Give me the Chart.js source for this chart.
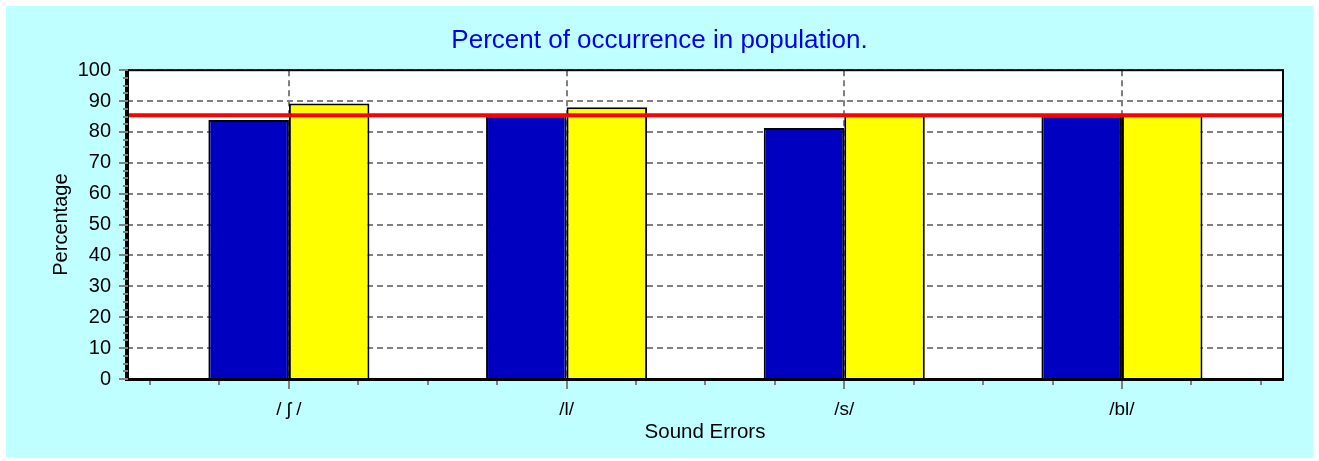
<!DOCTYPE html>
<html>
<head>
<meta charset="utf-8">
<script src="https://cdn.jsdelivr.net/npm/chart.js@4"></script>
<style>
html, body { margin: 0; padding: 0; background: #ffffff; }
#c { display: block; }
</style>
</head>
<body>
<canvas id="c" width="1319" height="461"></canvas>
<script>
// ---- data ----
const categories = ['/ \u0283 /', '/l/', '/s/', '/bl/'];
const seriesBlue = [83.9, 85.4, 81.3, 85.4];
const seriesYellow = [89.2, 88, 85.4, 85.4];
const referenceLevel = 85.4;
const yTickValues = [0, 10, 20, 30, 40, 50, 60, 70, 80, 90, 100];
const xMinorStep = 0.25;

const FONT = '"Liberation Sans", Arial, sans-serif';
const X_MIN = 0.417, X_MAX = 4.58;

const panelPlugin = {
  id: 'panel',
  beforeDraw(chart) {
    const { ctx, chartArea: a } = chart;
    ctx.save();
    ctx.fillStyle = '#C0FFFF';
    ctx.fillRect(6, 6, 1307, 451);
    ctx.fillStyle = '#FFFFFF';
    ctx.fillRect(a.left, a.top, a.right - a.left, a.bottom - a.top);
    ctx.restore();
  },
  afterDraw(chart) {
    const { ctx, chartArea: a, scales: { x, y } } = chart;
    ctx.save();
    // frame
    ctx.fillStyle = '#000000';
    ctx.fillRect(a.left, a.top - 1, a.right - a.left, 2);
    ctx.fillRect(a.right - 1, a.top - 1, 2, a.bottom - a.top + 1);
    ctx.fillRect(a.left - 2, a.top - 1, 4, a.bottom - a.top + 3);
    ctx.fillRect(a.left - 2, a.bottom - 1, a.right - a.left + 3, 3);
    // tick marks
    ctx.fillStyle = '#808080';
    for (let v = 0; v <= 100.001; v += 2.5) {
      const py = Math.round(y.getPixelForValue(v));
      const major = Math.abs(v % 10) < 1e-6;
      if (major) ctx.fillRect(a.left - 8, py - 1, 9, 2);
      else ctx.fillRect(a.left - 4, py - 1, 5, 2);
    }
    for (let v = 0.5; v <= 4.5001; v += xMinorStep) {
      const px = Math.round(x.getPixelForValue(v));
      const major = Math.abs(v - Math.round(v)) < 1e-6;
      ctx.fillRect(px - 1, a.bottom + 2, 2, major ? 8 : 4);
    }
    ctx.restore();
  }
};

new Chart(document.getElementById('c'), {
  data: {
    datasets: [
      {
        type: 'line',
        order: 0,
        data: [{ x: X_MIN, y: referenceLevel }, { x: X_MAX, y: referenceLevel }],
        borderColor: '#FF0000',
        borderWidth: 4,
        pointRadius: 0,
        fill: false
      },
      {
        type: 'bar',
        order: 1,
        data: seriesBlue.map((v, i) => ({ x: i + 1, y: v })),
        backgroundColor: '#0000C0',
        borderColor: '#000000',
        borderWidth: 2,
        categoryPercentage: 0.58,
        barPercentage: 1.0
      },
      {
        type: 'bar',
        order: 1,
        data: seriesYellow.map((v, i) => ({ x: i + 1, y: v })),
        backgroundColor: '#FFFF00',
        borderColor: '#000000',
        borderWidth: 2,
        categoryPercentage: 0.58,
        barPercentage: 1.0
      }
    ]
  },
  options: {
    responsive: false,
    animation: false,
    devicePixelRatio: 1,
    layout: { padding: 0 },
    plugins: {
      legend: { display: false },
      tooltip: { enabled: false },
      title: {
        display: true,
        text: 'Percent of occurrence in population.',
        color: '#0000EE',
        font: { family: FONT, size: 26, weight: 'normal' },
        padding: { top: 25, bottom: 14 }
      }
    },
    scales: {
      x: {
        type: 'linear',
        min: X_MIN,
        max: X_MAX,
        offset: false,
        afterBuildTicks: (axis) => { axis.ticks = categories.map((_, i) => ({ value: i + 1 })); },
        afterFit: (s) => { s.height = 82; },
        ticks: {
          autoSkip: false,
          maxRotation: 0,
          padding: 19,
          color: '#000000',
          font: { family: FONT, size: 19 },
          callback: (v) => categories[Math.round(v) - 1] || ''
        },
        grid: { color: '#808080', lineWidth: 2, drawTicks: false, offset: false },
        border: { display: false, dash: [6, 4] },
        title: {
          display: true,
          text: 'Sound Errors',
          color: '#000000',
          font: { family: FONT, size: 20.5 },
          padding: { top: 16, bottom: 16 }
        }
      },
      y: {
        min: 0,
        max: 100,
        afterBuildTicks: (axis) => { axis.ticks = yTickValues.map(v => ({ value: v })); },
        afterFit: (s) => { s.width = 127; },
        ticks: {
          autoSkip: false,
          padding: 16,
          color: '#000000',
          font: { family: FONT, size: 20 }
        },
        grid: { color: '#808080', lineWidth: 2, drawTicks: false },
        border: { display: false, dash: [6, 4] },
        title: {
          display: true,
          text: 'Percentage',
          color: '#000000',
          font: { family: FONT, size: 20 },
          padding: { top: 49, bottom: 49 }
        }
      },
      yRight: {
        position: 'right',
        min: 0,
        max: 100,
        afterFit: (s) => { s.width = 36; },
        ticks: { display: false },
        grid: { display: false, drawTicks: false },
        border: { display: false }
      }
    }
  },
  plugins: [panelPlugin]
});
</script>
</body>
</html>
